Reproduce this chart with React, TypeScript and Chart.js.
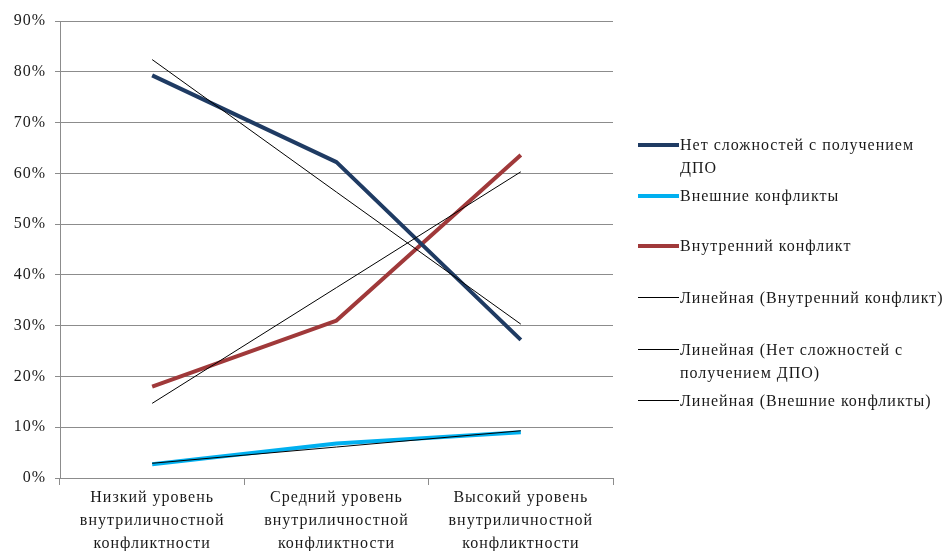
import React, { useEffect, useRef } from "react";
import { Chart, registerables } from "chart.js";

Chart.register(...registerables);

const categories: string[][] = [
  ["Низкий уровень", "внутриличностной", "конфликтности"],
  ["Средний уровень", "внутриличностной", "конфликтности"],
  ["Высокий уровень", "внутриличностной", "конфликтности"],
];

const noDifficulties = [79.3, 62.2, 27.2];
const externalConflicts = [2.7, 6.8, 9.0];
const internalConflict = [18.0, 31.0, 63.6];

const trendInternal = [14.7, 37.5, 60.3];
const trendNoDifficulties = [82.4, 56.3, 30.3];
const trendExternal = [2.9, 6.1, 9.3];

const yTicks = [0, 10, 20, 30, 40, 50, 60, 70, 80, 90];

const seriesLabels = [
  "Нет сложностей с получением ДПО",
  "Внешние конфликты",
  "Внутренний конфликт",
  "Линейная (Внутренний конфликт)",
  "Линейная (Нет сложностей с получением ДПО)",
  "Линейная (Внешние конфликты)",
];

const legendLines: string[][] = [
  ["Нет сложностей с получением", "ДПО"],
  ["Внешние конфликты"],
  ["Внутренний конфликт"],
  ["Линейная (Внутренний конфликт)"],
  ["Линейная (Нет сложностей с", "получением ДПО)"],
  ["Линейная (Внешние конфликты)"],
];

const colors = ["#1F3B63", "#00B0F0", "#A0393A", "#000000", "#000000", "#000000"];
const widths = [4, 4, 4, 1, 1, 1];
const legendY = [145, 196, 246, 298, 350, 401];

const FONT = "'Liberation Serif', 'Times New Roman', serif";

const letterSpacingPlugin = {
  id: "letterSpacing",
  beforeDraw: (chart: any) => {
    chart.ctx.letterSpacing = "1px";
  },
};

export default function App() {
  const ref = useRef<HTMLCanvasElement | null>(null);

  useEffect(() => {
    if (!ref.current) return;
    const chart = new Chart(ref.current, {
      type: "line",
      plugins: [letterSpacingPlugin],
      data: {
        labels: categories,
        datasets: [
          { label: seriesLabels[0], data: noDifficulties, borderColor: colors[0], borderWidth: widths[0], order: 1 },
          { label: seriesLabels[1], data: externalConflicts, borderColor: colors[1], borderWidth: widths[1], order: 1 },
          { label: seriesLabels[2], data: internalConflict, borderColor: colors[2], borderWidth: widths[2], order: 1 },
          { label: seriesLabels[3], data: trendInternal, borderColor: colors[3], borderWidth: widths[3], order: 0 },
          { label: seriesLabels[4], data: trendNoDifficulties, borderColor: colors[4], borderWidth: widths[4], order: 0 },
          { label: seriesLabels[5], data: trendExternal, borderColor: colors[5], borderWidth: widths[5], order: 0 },
        ].map((d) => ({
          ...d,
          pointRadius: 0,
          pointHoverRadius: 0,
          tension: 0,
          fill: false,
          borderCapStyle: "butt" as const,
          borderJoinStyle: "round" as const,
        })),
      },
      options: {
        animation: false,
        responsive: false,
        maintainAspectRatio: false,
        layout: { padding: { left: 0, right: 337, top: 21, bottom: 0 } },
        plugins: {
          legend: { display: false },
          tooltip: { enabled: false },
        },
        scales: {
          x: {
            offset: true,
            grid: {
              offset: true,
              drawOnChartArea: false,
              drawTicks: true,
              tickLength: 7,
              color: "#8C8C8C",
            },
            border: { color: "#8C8C8C", width: 1 },
            ticks: {
              color: "#1A1A1A",
              font: { family: FONT, size: 16, lineHeight: 1.45 },
              padding: 1,
              maxRotation: 0,
              autoSkip: false,
            },
            afterFit: (s: any) => {
              s.height = 73;
            },
          },
          y: {
            min: 0,
            max: 90,
            afterBuildTicks: (s: any) => {
              s.ticks = yTicks.map((v) => ({ value: v }));
            },
            grid: { color: "#8C8C8C", tickLength: 5, lineWidth: 1 },
            border: { color: "#8C8C8C", width: 1 },
            ticks: {
              color: "#1A1A1A",
              font: { family: FONT, size: 16 },
              padding: 9,
              callback: (v: any) => `${v}%`,
            },
            afterFit: (s: any) => {
              s.width = 60;
            },
          },
        },
      },
    });
    return () => chart.destroy();
  }, []);

  return (
    <div style={{ position: "absolute", left: 0, top: 0, width: 950, height: 551, background: "#fff" }}>
      <canvas ref={ref} width={950} height={551} style={{ position: "absolute", left: 0, top: 0 }} />
      {legendLines.map((lines, i) => (
        <div key={i}>
          <div
            style={{
              position: "absolute",
              left: 638,
              top: legendY[i] - Math.ceil(widths[i] / 2),
              width: 41,
              height: widths[i] === 1 ? 1 : 4,
              background: colors[i],
            }}
          />
          <div
            style={{
              position: "absolute",
              left: 680,
              top: legendY[i] - 12,
              fontFamily: FONT,
              fontSize: 16,
              letterSpacing: "1px",
              lineHeight: "23px",
              color: "#1A1A1A",
              whiteSpace: "nowrap",
            }}
          >
            {lines.map((l, j) => (
              <div key={j}>{l}</div>
            ))}
          </div>
        </div>
      ))}
    </div>
  );
}
